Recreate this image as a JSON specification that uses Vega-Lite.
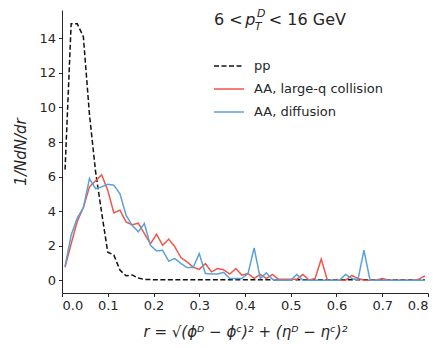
{
"$schema": "https://vega.github.io/schema/vega-lite/v6.json",
"width": 366, "height": 283,
"autosize": {"type": "none"},
"padding": {"left": 62, "top": 10, "right": 13, "bottom": 55},
"config": {"view": {"stroke": null}, "font": "DejaVu Sans",
  "axis": {"grid": false, "domainColor": "#262626", "tickColor": "#262626", "labelColor": "#262626", "titleColor": "#262626", "labelFontSize": 13, "tickSize": 3.5, "labelPadding": 3, "domainWidth": 1, "tickWidth": 1, "titleFontWeight": "normal", "titleFontSize": 15}},
"datasets": {
"curves": [
{"r":0.0067,"v":6.4,"s":"pp"},{"r":0.02,"v":14.85,"s":"pp"},{"r":0.0333,"v":14.85,"s":"pp"},{"r":0.0467,"v":14.1,"s":"pp"},{"r":0.06,"v":9.6,"s":"pp"},{"r":0.0733,"v":6.3,"s":"pp"},{"r":0.0867,"v":3.9,"s":"pp"},{"r":0.1,"v":1.62,"s":"pp"},{"r":0.1133,"v":1.45,"s":"pp"},{"r":0.1267,"v":0.58,"s":"pp"},{"r":0.14,"v":0.25,"s":"pp"},{"r":0.1533,"v":0.3,"s":"pp"},{"r":0.1667,"v":0.12,"s":"pp"},{"r":0.18,"v":0.04,"s":"pp"},{"r":0.1933,"v":0.03,"s":"pp"},{"r":0.2067,"v":0.02,"s":"pp"},{"r":0.22,"v":0.02,"s":"pp"},{"r":0.2333,"v":0.02,"s":"pp"},{"r":0.2467,"v":0.02,"s":"pp"},{"r":0.26,"v":0.02,"s":"pp"},{"r":0.2733,"v":0.02,"s":"pp"},{"r":0.2867,"v":0.02,"s":"pp"},{"r":0.3,"v":0.02,"s":"pp"},{"r":0.3133,"v":0.02,"s":"pp"},{"r":0.3267,"v":0.02,"s":"pp"},{"r":0.34,"v":0.02,"s":"pp"},{"r":0.3533,"v":0.02,"s":"pp"},{"r":0.3667,"v":0.02,"s":"pp"},{"r":0.38,"v":0.02,"s":"pp"},{"r":0.3933,"v":0.02,"s":"pp"},{"r":0.4067,"v":0.02,"s":"pp"},{"r":0.42,"v":0.02,"s":"pp"},{"r":0.4333,"v":0.02,"s":"pp"},{"r":0.4467,"v":0.02,"s":"pp"},{"r":0.46,"v":0.02,"s":"pp"},{"r":0.4733,"v":0.02,"s":"pp"},{"r":0.4867,"v":0.02,"s":"pp"},{"r":0.5,"v":0.02,"s":"pp"},{"r":0.5133,"v":0.02,"s":"pp"},{"r":0.5267,"v":0.02,"s":"pp"},{"r":0.54,"v":0.02,"s":"pp"},{"r":0.5533,"v":0.02,"s":"pp"},{"r":0.5667,"v":0.02,"s":"pp"},{"r":0.58,"v":0.02,"s":"pp"},{"r":0.5933,"v":0.02,"s":"pp"},{"r":0.6067,"v":0.02,"s":"pp"},{"r":0.62,"v":0.02,"s":"pp"},{"r":0.6333,"v":0.02,"s":"pp"},{"r":0.6467,"v":0.02,"s":"pp"},{"r":0.66,"v":0.02,"s":"pp"},{"r":0.6733,"v":0.02,"s":"pp"},{"r":0.6867,"v":0.02,"s":"pp"},{"r":0.7,"v":0.02,"s":"pp"},{"r":0.7133,"v":0.02,"s":"pp"},{"r":0.7267,"v":0.02,"s":"pp"},{"r":0.74,"v":0.02,"s":"pp"},{"r":0.7533,"v":0.02,"s":"pp"},{"r":0.7667,"v":0.02,"s":"pp"},{"r":0.78,"v":0.02,"s":"pp"},{"r":0.7933,"v":0.02,"s":"pp"},
{"r":0.0067,"v":0.75,"s":"AA, large-q collision"},{"r":0.02,"v":2.1,"s":"AA, large-q collision"},{"r":0.0333,"v":3.4,"s":"AA, large-q collision"},{"r":0.0467,"v":4.2,"s":"AA, large-q collision"},{"r":0.06,"v":5.4,"s":"AA, large-q collision"},{"r":0.0733,"v":5.75,"s":"AA, large-q collision"},{"r":0.0867,"v":6.1,"s":"AA, large-q collision"},{"r":0.1,"v":5.2,"s":"AA, large-q collision"},{"r":0.1133,"v":3.9,"s":"AA, large-q collision"},{"r":0.1267,"v":4.05,"s":"AA, large-q collision"},{"r":0.14,"v":3.37,"s":"AA, large-q collision"},{"r":0.1533,"v":3.2,"s":"AA, large-q collision"},{"r":0.1667,"v":3.3,"s":"AA, large-q collision"},{"r":0.18,"v":2.7,"s":"AA, large-q collision"},{"r":0.1933,"v":2.1,"s":"AA, large-q collision"},{"r":0.2067,"v":2.66,"s":"AA, large-q collision"},{"r":0.22,"v":2.02,"s":"AA, large-q collision"},{"r":0.2333,"v":2.37,"s":"AA, large-q collision"},{"r":0.2467,"v":1.93,"s":"AA, large-q collision"},{"r":0.26,"v":1.3,"s":"AA, large-q collision"},{"r":0.2733,"v":1.06,"s":"AA, large-q collision"},{"r":0.2867,"v":0.75,"s":"AA, large-q collision"},{"r":0.3,"v":0.62,"s":"AA, large-q collision"},{"r":0.3133,"v":0.96,"s":"AA, large-q collision"},{"r":0.3267,"v":0.48,"s":"AA, large-q collision"},{"r":0.34,"v":0.67,"s":"AA, large-q collision"},{"r":0.3533,"v":0.6,"s":"AA, large-q collision"},{"r":0.3667,"v":0.35,"s":"AA, large-q collision"},{"r":0.38,"v":0.67,"s":"AA, large-q collision"},{"r":0.3933,"v":0.29,"s":"AA, large-q collision"},{"r":0.4067,"v":0.38,"s":"AA, large-q collision"},{"r":0.42,"v":0.1,"s":"AA, large-q collision"},{"r":0.4333,"v":0.33,"s":"AA, large-q collision"},{"r":0.4467,"v":0.1,"s":"AA, large-q collision"},{"r":0.46,"v":0.33,"s":"AA, large-q collision"},{"r":0.4733,"v":0.05,"s":"AA, large-q collision"},{"r":0.4867,"v":0.05,"s":"AA, large-q collision"},{"r":0.5,"v":0.05,"s":"AA, large-q collision"},{"r":0.5133,"v":0.05,"s":"AA, large-q collision"},{"r":0.5267,"v":0.33,"s":"AA, large-q collision"},{"r":0.54,"v":0.0,"s":"AA, large-q collision"},{"r":0.5533,"v":0.1,"s":"AA, large-q collision"},{"r":0.5667,"v":1.22,"s":"AA, large-q collision"},{"r":0.58,"v":0.0,"s":"AA, large-q collision"},{"r":0.5933,"v":0.0,"s":"AA, large-q collision"},{"r":0.6067,"v":0.0,"s":"AA, large-q collision"},{"r":0.62,"v":0.0,"s":"AA, large-q collision"},{"r":0.6333,"v":0.27,"s":"AA, large-q collision"},{"r":0.6467,"v":0.1,"s":"AA, large-q collision"},{"r":0.66,"v":0.0,"s":"AA, large-q collision"},{"r":0.6733,"v":0.0,"s":"AA, large-q collision"},{"r":0.6867,"v":0.0,"s":"AA, large-q collision"},{"r":0.7,"v":0.1,"s":"AA, large-q collision"},{"r":0.7133,"v":0.0,"s":"AA, large-q collision"},{"r":0.7267,"v":0.0,"s":"AA, large-q collision"},{"r":0.74,"v":0.0,"s":"AA, large-q collision"},{"r":0.7533,"v":0.0,"s":"AA, large-q collision"},{"r":0.7667,"v":0.0,"s":"AA, large-q collision"},{"r":0.78,"v":0.05,"s":"AA, large-q collision"},{"r":0.7933,"v":0.25,"s":"AA, large-q collision"},
{"r":0.0067,"v":0.8,"s":"AA, diffusion"},{"r":0.02,"v":2.6,"s":"AA, diffusion"},{"r":0.0333,"v":3.6,"s":"AA, diffusion"},{"r":0.0467,"v":4.2,"s":"AA, diffusion"},{"r":0.06,"v":5.88,"s":"AA, diffusion"},{"r":0.0733,"v":5.3,"s":"AA, diffusion"},{"r":0.0867,"v":5.4,"s":"AA, diffusion"},{"r":0.1,"v":5.55,"s":"AA, diffusion"},{"r":0.1133,"v":5.5,"s":"AA, diffusion"},{"r":0.1267,"v":5.0,"s":"AA, diffusion"},{"r":0.14,"v":3.76,"s":"AA, diffusion"},{"r":0.1533,"v":3.18,"s":"AA, diffusion"},{"r":0.1667,"v":2.8,"s":"AA, diffusion"},{"r":0.18,"v":3.28,"s":"AA, diffusion"},{"r":0.1933,"v":2.02,"s":"AA, diffusion"},{"r":0.2067,"v":1.69,"s":"AA, diffusion"},{"r":0.22,"v":1.73,"s":"AA, diffusion"},{"r":0.2333,"v":1.1,"s":"AA, diffusion"},{"r":0.2467,"v":1.25,"s":"AA, diffusion"},{"r":0.26,"v":0.96,"s":"AA, diffusion"},{"r":0.2733,"v":0.73,"s":"AA, diffusion"},{"r":0.2867,"v":0.73,"s":"AA, diffusion"},{"r":0.3,"v":1.54,"s":"AA, diffusion"},{"r":0.3133,"v":0.39,"s":"AA, diffusion"},{"r":0.3267,"v":0.35,"s":"AA, diffusion"},{"r":0.34,"v":0.35,"s":"AA, diffusion"},{"r":0.3533,"v":0.45,"s":"AA, diffusion"},{"r":0.3667,"v":0.1,"s":"AA, diffusion"},{"r":0.38,"v":0.1,"s":"AA, diffusion"},{"r":0.3933,"v":0.1,"s":"AA, diffusion"},{"r":0.4067,"v":0.39,"s":"AA, diffusion"},{"r":0.42,"v":1.87,"s":"AA, diffusion"},{"r":0.4333,"v":0.1,"s":"AA, diffusion"},{"r":0.4467,"v":0.42,"s":"AA, diffusion"},{"r":0.46,"v":0.05,"s":"AA, diffusion"},{"r":0.4733,"v":0.0,"s":"AA, diffusion"},{"r":0.4867,"v":0.0,"s":"AA, diffusion"},{"r":0.5,"v":0.0,"s":"AA, diffusion"},{"r":0.5133,"v":0.33,"s":"AA, diffusion"},{"r":0.5267,"v":0.0,"s":"AA, diffusion"},{"r":0.54,"v":0.0,"s":"AA, diffusion"},{"r":0.5533,"v":0.0,"s":"AA, diffusion"},{"r":0.5667,"v":0.0,"s":"AA, diffusion"},{"r":0.58,"v":0.0,"s":"AA, diffusion"},{"r":0.5933,"v":0.0,"s":"AA, diffusion"},{"r":0.6067,"v":0.0,"s":"AA, diffusion"},{"r":0.62,"v":0.33,"s":"AA, diffusion"},{"r":0.6333,"v":0.1,"s":"AA, diffusion"},{"r":0.6467,"v":0.0,"s":"AA, diffusion"},{"r":0.66,"v":1.73,"s":"AA, diffusion"},{"r":0.6733,"v":0.0,"s":"AA, diffusion"},{"r":0.6867,"v":0.0,"s":"AA, diffusion"},{"r":0.7,"v":0.0,"s":"AA, diffusion"},{"r":0.7133,"v":0.0,"s":"AA, diffusion"},{"r":0.7267,"v":0.0,"s":"AA, diffusion"},{"r":0.74,"v":0.0,"s":"AA, diffusion"},{"r":0.7533,"v":0.0,"s":"AA, diffusion"},{"r":0.7667,"v":0.0,"s":"AA, diffusion"},{"r":0.78,"v":0.0,"s":"AA, diffusion"},{"r":0.7933,"v":0.0,"s":"AA, diffusion"}
]},
"layer": [
{"data": {"name": "curves"},
 "mark": {"type": "line", "strokeWidth": 1.5, "clip": true},
 "encoding": {
  "x": {"field": "r", "type": "quantitative", "scale": {"domain": [0, 0.8], "nice": false, "zero": false},
        "axis": {"values": [0,0.1,0.2,0.3,0.4,0.5,0.6,0.7,0.8], "format": ".1f", "title": "r = √(ϕᴰ − ϕᶜ)² + (ηᴰ − ηᶜ)²", "titleFontStyle": "italic", "titlePadding": 12}},
  "y": {"field": "v", "type": "quantitative", "scale": {"domain": [-0.745, 15.645], "nice": false, "zero": false},
        "axis": {"values": [0,2,4,6,8,10,12,14], "title": "1/NdN/dr", "titleFontStyle": "italic", "titlePadding": 10}},
  "color": {"field": "s", "type": "nominal", "scale": {"domain": ["pp", "AA, large-q collision", "AA, diffusion"], "range": ["#111111", "#f0554a", "#5aa2d6"]},
            "legend": {"title": null, "orient": "none", "legendX": 151, "legendY": 40, "symbolType": "stroke", "symbolSize": 900, "symbolStrokeWidth": 1.5, "labelFontSize": 13, "labelColor": "#262626", "labelOffset": 9, "rowPadding": -8, "padding": 0}},
  "strokeDash": {"field": "s", "type": "nominal", "scale": {"domain": ["pp", "AA, large-q collision", "AA, diffusion"], "range": [[5, 2.5], [1, 0], [1, 0]]}},
  "order": {"field": "r"}
 }},
{"data": {"values": [{"t": "6 <"}]}, "mark": {"type": "text", "align": "left", "baseline": "alphabetic", "fontSize": 16, "color": "#262626"},
 "encoding": {"x": {"datum": 0.3322}, "y": {"datum": 14.78}, "text": {"field": "t"}}},
{"data": {"values": [{"t": "p"}]}, "mark": {"type": "text", "align": "left", "baseline": "alphabetic", "fontSize": 16, "fontStyle": "italic", "color": "#262626"},
 "encoding": {"x": {"datum": 0.4005}, "y": {"datum": 14.78}, "text": {"field": "t"}}},
{"data": {"values": [{"t": "D"}]}, "mark": {"type": "text", "align": "left", "baseline": "alphabetic", "fontSize": 11, "fontStyle": "italic", "color": "#262626"},
 "encoding": {"x": {"datum": 0.4265}, "y": {"datum": 15.25}, "text": {"field": "t"}}},
{"data": {"values": [{"t": "T"}]}, "mark": {"type": "text", "align": "left", "baseline": "alphabetic", "fontSize": 11, "fontStyle": "italic", "color": "#262626"},
 "encoding": {"x": {"datum": 0.4215}, "y": {"datum": 14.5}, "text": {"field": "t"}}},
{"data": {"values": [{"t": "< 16 GeV"}]}, "mark": {"type": "text", "align": "left", "baseline": "alphabetic", "fontSize": 16, "color": "#262626"},
 "encoding": {"x": {"datum": 0.452}, "y": {"datum": 14.78}, "text": {"field": "t"}}}
]
}
